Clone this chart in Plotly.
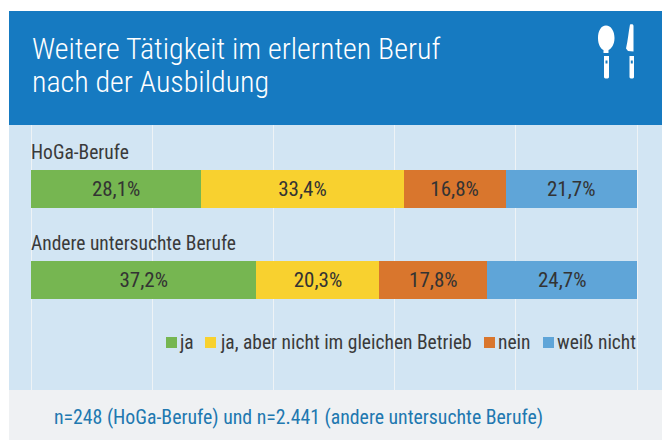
import plotly.graph_objects as go

categories = ["HoGa-Berufe", "Andere untersuchte Berufe"]
series_names = ["ja", "ja, aber nicht im gleichen Betrieb", "nein", "weiß nicht"]
series_values = {
    "ja": [28.1, 37.2],
    "ja, aber nicht im gleichen Betrieb": [33.4, 20.3],
    "nein": [16.8, 17.8],
    "weiß nicht": [21.7, 24.7],
}
colors = ["#76b651", "#f8d12f", "#d9762d", "#5fa5d8"]
title_lines = ["Weitere Tätigkeit im erlernten Beruf", "nach der Ausbildung"]
footnote = "n=248 (HoGa-Berufe) und n=2.441 (andere untersuchte Berufe)"

W, H = 662, 440
FONT = "Roboto"
def px(x): return x / W
def py(y): return 1 - y / H

fig = go.Figure()
for name, col in zip(series_names, colors):
    vals = series_values[name]
    fig.add_trace(go.Bar(
        y=categories, x=vals, name=name, orientation="h", marker=dict(color=col, line=dict(width=0)),
        text=[f"{v:.1f}%".replace(".", ",") for v in vals], textposition="inside",
        insidetextanchor="middle", textangle=0, constraintext="none",
        textfont=dict(family=FONT, size=21, color="#333333"), showlegend=False, hoverinfo="skip",
    ))

def rect(x0, y0, x1, y1, color):
    return dict(type="rect", xref="paper", yref="paper", x0=px(x0), x1=px(x1), y0=py(y0), y1=py(y1),
                fillcolor=color, line=dict(width=0), layer="below")

def path(d, color, layer="above"):
    out = []
    for tok in d.split():
        if "," in tok:
            a, b = tok.split(",")
            pre = ""
            if a[0].isalpha():
                pre, a = a[0], a[1:]
            out.append(f"{pre}{px(float(a)):.5f},{py(float(b)):.5f}")
        else:
            out.append(tok)
    return dict(type="path", xref="paper", yref="paper", path=" ".join(out), fillcolor=color,
                line=dict(width=0), layer=layer)

shapes = [
    rect(9, 11, 662, 125, "#167ac1"),
    rect(9, 125, 662, 390, "#d2e5f3"),
    rect(9, 390, 662, 440, "#eff1f3"),
]
# cutlery icon
shapes += [
    path("M606,25.5 C611,25.5 614.5,31 614.5,38 C614.5,45 611,49 608.5,50 L608.5,53 L603.5,53 L603.5,50 "
         "C601,49 598,45 598,38 C598,31 601,25.5 606,25.5 Z", "white"),
    path("M604,56 L609,56 L609,77 C609,79 604,79 604,77 Z", "white"),
    path("M630,24.5 C632,24 633.5,24 633.5,26 L633.5,51.5 L628,51 L626,48.5 C628,40 628.5,32 630,24.5 Z", "white"),
    path("M629.5,56 L634,56 L634,77 C634,79 629.5,79 629.5,77 Z", "white"),
    path("M605.5,60.5 L607.5,60.5 L607.5,63.5 L605.5,63.5 Z", "#167ac1"),
    path("M630.8,60.5 L632.8,60.5 L632.8,63.5 L630.8,63.5 Z", "#167ac1"),
]

annotations = []
def text(x, y, s, size, color, weight=400):
    annotations.append(dict(xref="paper", yref="paper", x=px(x), y=py(y), text=s, showarrow=False,
                            xanchor="left", yanchor="middle", align="left",
                            borderpad=0, font=dict(family=FONT, size=size, color=color, weight=weight)))

text(30.5, 48.5, title_lines[0], 30, "white", 300)
text(30.5, 81, title_lines[1], 30, "white", 300)
text(30, 152, categories[0], 19.5, "#3a3a3a")
text(30, 243, categories[1], 19.5, "#3a3a3a")
text(52.5, 417, footnote, 19.8, "#2178b0")

legend_x = [(166, 178), (205, 218.5), (484, 497), (543, 556)]
for (sx, tx), name, col in zip(legend_x, series_names, colors):
    shapes.append(dict(type="rect", xref="paper", yref="paper", x0=px(sx), x1=px(sx + 11),
                       y0=py(337), y1=py(348), fillcolor=col, line=dict(width=0), layer="above"))
    text(tx, 342, name, 19.5, "#3a3a3a")

fig.update_layout(
    width=W, height=H, margin=dict(l=0, r=0, t=0, b=0), autosize=False,
    barmode="stack", bargap=0.582,
    paper_bgcolor="white", plot_bgcolor="rgba(0,0,0,0)", showlegend=False,
    xaxis=dict(domain=[29.5 / W, 638.5 / W], range=[-0.2475, 100.2475], tick0=0, dtick=20, showgrid=True,
               gridcolor="#eef3f6", gridwidth=1, zeroline=False, showticklabels=False, ticks="", showline=False),
    yaxis=dict(domain=[1 - 390 / H, 1 - 125 / H], type="category", categoryorder="array",
               categoryarray=categories, range=[2.209, -0.703], showgrid=False, zeroline=False,
               showticklabels=False, ticks="", showline=False),
    shapes=shapes, annotations=annotations,
)
fig.write_html("out.html", config={"displayModeBar": False},
    post_script="document.body.style.margin='0';var s=document.createElement('style');"
                "s.textContent='svg text{font-stretch:condensed !important}';document.head.appendChild(s);")
